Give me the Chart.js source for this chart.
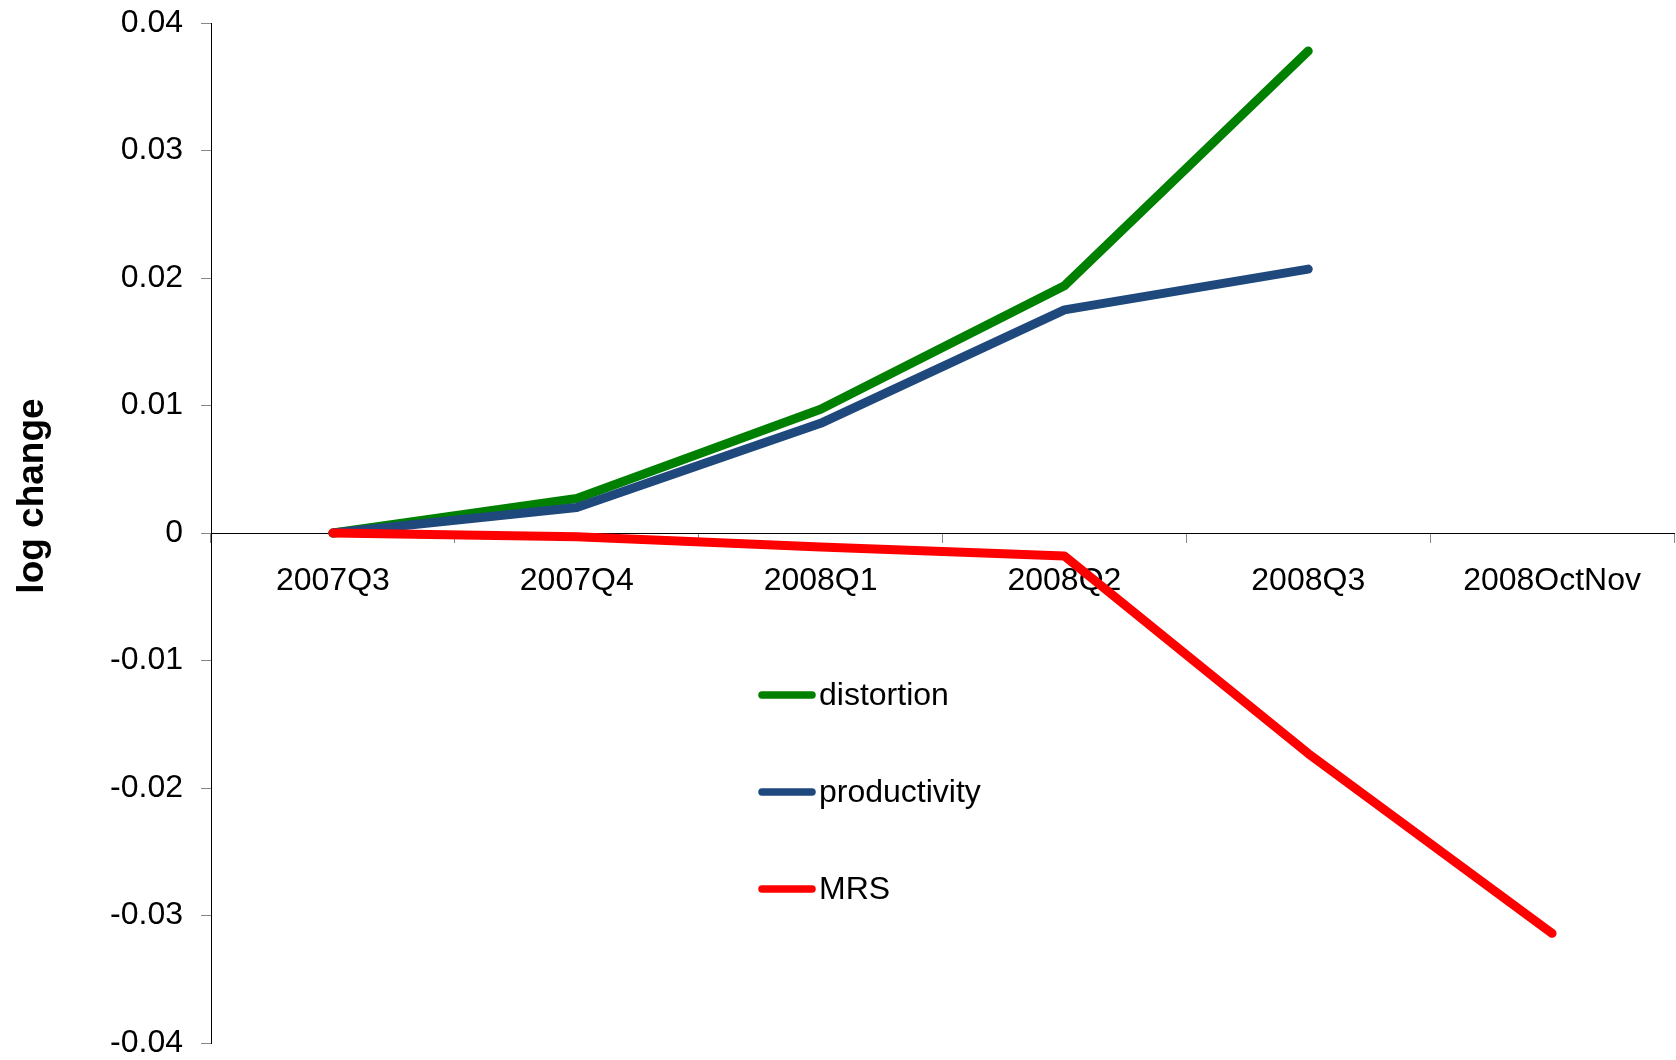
<!DOCTYPE html>
<html>
<head>
<meta charset="utf-8">
<title>log change</title>
<script src="https://cdn.jsdelivr.net/npm/chart.js@4/dist/chart.umd.min.js"></script>
<style>
  html, body { margin: 0; padding: 0; background: #ffffff; }
  #wrap { width: 1676px; height: 1060px; position: relative; }
</style>
</head>
<body>
<div id="wrap"><canvas id="chart" width="1676" height="1060"></canvas></div>
<script>
// Periods on the horizontal axis
const categories = ['2007Q3', '2007Q4', '2008Q1', '2008Q2', '2008Q3', '2008OctNov'];

// Cumulative log changes since 2007Q3
const distortion   = [0, 0.0027, 0.0097, 0.0194, 0.0378];
const productivity = [0, 0.0020, 0.0086, 0.0175, 0.0207];
const mrs          = [0, -0.0003, -0.0011, -0.0018, -0.0173, -0.0314];

// Vertical axis ticks and their printed labels
const yTickValues = [-0.04, -0.03, -0.02, -0.01, 0, 0.01, 0.02, 0.03, 0.04];
const yTickLabels = ['-0.04', '-0.03', '-0.02', '-0.01', '0', '0.01', '0.02', '0.03', '0.04'];

const yAxisTitle = 'log change';

const FONT = "'Liberation Sans', Arial, Helvetica, sans-serif";

// Legend drawn inside the plot area, below the zero line
const innerLegend = {
  id: 'innerLegend',
  afterDraw(chart) {
    const ctx = chart.ctx;
    const rows = [695, 792, 889];
    ctx.save();
    chart.data.datasets.forEach((ds, i) => {
      const y = rows[i];
      ctx.beginPath();
      ctx.strokeStyle = ds.borderColor;
      ctx.lineWidth = 7.5;
      ctx.lineCap = 'round';
      ctx.moveTo(762, y);
      ctx.lineTo(812, y);
      ctx.stroke();
      ctx.fillStyle = '#000000';
      ctx.font = '32px ' + FONT;
      ctx.textAlign = 'left';
      ctx.textBaseline = 'middle';
      ctx.fillText(ds.label, 819, y + 1);
    });
    ctx.restore();
  }
};

// Rotated title for the value axis, set a little above the axis middle
const axisTitle = {
  id: 'axisTitle',
  afterDraw(chart) {
    const ctx = chart.ctx;
    ctx.save();
    ctx.translate(33, 496);
    ctx.rotate(-Math.PI / 2);
    ctx.fillStyle = '#000000';
    ctx.font = 'bold 37px ' + FONT;
    ctx.textAlign = 'center';
    ctx.textBaseline = 'middle';
    ctx.fillText(yAxisTitle, 0, 0);
    ctx.restore();
  }
};

const lineStyle = {
  borderWidth: 9,
  pointRadius: 0,
  pointHoverRadius: 0,
  tension: 0,
  fill: false,
  borderCapStyle: 'round',
  borderJoinStyle: 'round'
};

new Chart(document.getElementById('chart'), {
  type: 'line',
  data: {
    labels: categories,
    datasets: [
      Object.assign({ label: 'distortion', data: distortion, borderColor: '#008000', order: 3 }, lineStyle),
      Object.assign({ label: 'productivity', data: productivity, borderColor: '#1F497D', order: 2 }, lineStyle),
      Object.assign({ label: 'MRS', data: mrs, borderColor: '#FF0000', order: 1 }, lineStyle)
    ]
  },
  options: {
    responsive: false,
    animation: false,
    events: [],
    layout: { padding: { top: 23, bottom: 17, left: 0, right: 2 } },
    plugins: {
      legend: { display: false },
      tooltip: { enabled: false }
    },
    scales: {
      x: {
        type: 'category',
        position: { y: 0 },
        offset: true,
        afterFit(scale) { scale.height = 0; scale.paddingTop = 0; scale.paddingBottom = 0; },
        grid: {
          display: true,
          offset: true,
          drawOnChartArea: false,
          drawTicks: true,
          tickLength: 9,
          color: '#888888',
          lineWidth: 1
        },
        border: { display: true, color: '#000000', width: 1 },
        ticks: {
          color: '#000000',
          padding: 20,
          maxRotation: 0,
          autoSkip: false,
          font: { family: FONT, size: 32 }
        }
      },
      y: {
        type: 'linear',
        position: 'left',
        min: -0.04,
        max: 0.04,
        afterFit(scale) { scale.width = 211; scale.paddingTop = 0; scale.paddingBottom = 0; },
        afterBuildTicks(scale) {
          scale.ticks = yTickValues.map(v => ({ value: v }));
        },
        grid: {
          display: true,
          drawOnChartArea: false,
          drawTicks: true,
          tickLength: 10,
          color: '#888888',
          lineWidth: 1
        },
        border: { display: true, color: '#000000', width: 1 },
        ticks: {
          color: '#000000',
          padding: 18,
          font: { family: FONT, size: 32 },
          callback: (value, index) => yTickLabels[index]
        }
      }
    }
  },
  plugins: [innerLegend, axisTitle]
});
</script>
</body>
</html>
